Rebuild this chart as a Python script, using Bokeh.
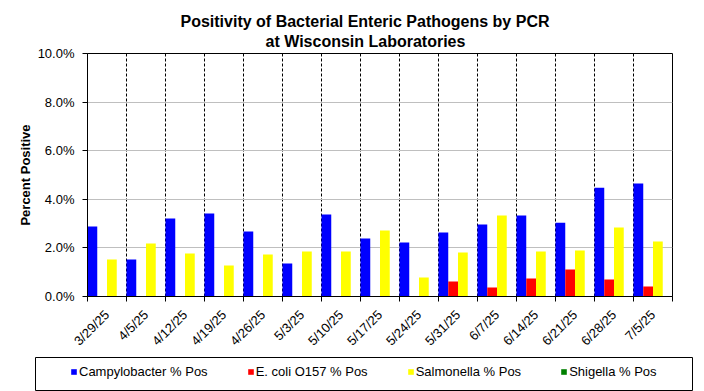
import math
import numpy as np
from bokeh.plotting import figure
from bokeh.layouts import column
from bokeh.models import (Range1d, FixedTicker, PrintfTickFormatter, Legend, LegendItem, Title)
from bokeh.embed import file_html
from bokeh.resources import INLINE

# ---- data ----
dates = ["3/29/25", "4/5/25", "4/12/25", "4/19/25", "4/26/25", "5/3/25", "5/10/25",
         "5/17/25", "5/24/25", "5/31/25", "6/7/25", "6/14/25", "6/21/25", "6/28/25", "7/5/25"]
campylobacter = [2.88, 1.52, 3.21, 3.42, 2.67, 1.36, 3.37, 2.39, 2.22, 2.63, 2.96, 3.33, 3.04, 4.48, 4.65]
ecoli_o157 = [0, 0, 0, 0, 0, 0, 0, 0, 0, 0.62, 0.37, 0.74, 1.11, 0.70, 0.41]
salmonella = [1.52, 2.18, 1.77, 1.28, 1.73, 1.85, 1.85, 2.72, 0.78, 1.81, 3.33, 1.85, 1.89, 2.84, 2.26]
shigella = [0, 0, 0, 0, 0, 0, 0, 0, 0, 0, 0, 0, 0, 0, 0]
y_ticks = [0, 2, 4, 6, 8, 10]
series_labels = ["Campylobacter % Pos", "E. coli O157 % Pos", "Salmonella % Pos", "Shigella % Pos"]
series_colors = ["#0000FF", "#FF0000", "#FFFF00", "#008000"]
title_lines = ["Positivity of Bacterial Enteric Pathogens by PCR", "at Wisconsin Laboratories"]

FONT = "Liberation Sans"
n = len(dates)
idx = np.arange(n, dtype=float)

p = figure(width=704, height=356, output_backend="svg", toolbar_location=None,
           x_range=Range1d(0, n), y_range=Range1d(0, 10),
           min_border_left=87, min_border_right=32, min_border_top=53, min_border_bottom=60,
           background_fill_color="white", border_fill_color="white")
p.frame_align = False
p.outline_line_color = "black"
p.outline_line_width = 1

# bars: four slots per week, each a quarter of the category
bw = 0.25
for k, vals in enumerate([campylobacter, ecoli_o157, salmonella, shigella]):
    p.vbar(x=idx + bw * (k + 0.5), top=vals, width=bw, fill_color=series_colors[k], line_color=None)

# x axis: labels at centers, ticks at boundaries (minor)
xa = p.xaxis[0]
xa.ticker = FixedTicker(ticks=list(idx + 0.5), minor_ticks=list(np.arange(n + 1, dtype=float)))
xa.major_label_overrides = {float(i + 0.5): d for i, d in enumerate(dates)}
xa.major_label_orientation = math.pi / 4
xa.major_tick_line_color = None
xa.major_tick_out = 0
xa.major_tick_in = 0
xa.minor_tick_in = 0
xa.minor_tick_out = 5
xa.minor_tick_line_color = "black"
xa.axis_line_color = "black"
xa.major_label_text_font = FONT
xa.major_label_text_font_size = "13px"
xa.major_label_text_color = "black"
xa.major_label_standoff = 11

ya = p.yaxis[0]
ya.ticker = FixedTicker(ticks=y_ticks)
ya.formatter = PrintfTickFormatter(format="%.1f%%")
ya.major_tick_out = 5
ya.major_tick_in = 0
ya.minor_tick_line_color = None
ya.axis_line_color = "black"
ya.major_tick_line_color = "black"
ya.major_label_text_font = FONT
ya.major_label_text_font_size = "13px"
ya.major_label_text_color = "black"
ya.major_label_standoff = 8
ya.axis_label = "Percent Positive"
ya.axis_label_text_font = FONT
ya.axis_label_text_font_size = "13px"
ya.axis_label_text_font_style = "bold"
ya.axis_label_text_color = "black"
ya.axis_label_standoff = 2

# grids
p.ygrid.ticker = FixedTicker(ticks=[2, 4, 6, 8])
p.ygrid.grid_line_color = "#bfbfbf"
p.ygrid.grid_line_width = 1
p.xgrid.ticker = FixedTicker(ticks=list(np.arange(1, n, dtype=float)))
p.xgrid.grid_line_color = "black"
p.xgrid.grid_line_dash = "3 2"
p.xgrid.grid_line_width = 1

# titles (second line closest to the plot)
p.add_layout(Title(text=title_lines[1], align="left", offset=178, standoff=7,
                   text_font=FONT, text_font_size="16px", text_font_style="bold",
                   text_color="black"), "above")
p.add_layout(Title(text=title_lines[0], align="left", offset=93, standoff=-5,
                   text_font=FONT, text_font_size="16px", text_font_style="bold",
                   text_color="black"), "above")

# legend panel: its frame outline is the legend box
lg = figure(width=704, height=35, output_backend="svg", toolbar_location=None,
            x_range=Range1d(0, 1), y_range=Range1d(0, 1),
            x_axis_location=None, y_axis_location=None,
            min_border_left=35, min_border_right=12, min_border_top=1, min_border_bottom=1,
            background_fill_color="white", border_fill_color="white")
lg.frame_align = False
lg.outline_line_color = "black"
lg.outline_line_width = 1
lg.grid.visible = False
keys = [lg.vbar(x=[0.5], top=[0], bottom=[0], width=0.01, fill_color=series_colors[k], line_color=None)
        for k in range(4)]

legend = Legend(items=[LegendItem(label=series_labels[k], renderers=[keys[k]]) for k in range(4)],
                orientation="horizontal", location=(35, 11),
                glyph_width=7, glyph_height=7, label_standoff=2, spacing=39, padding=0,
                label_height=14, margin=0,
                border_line_color=None, background_fill_alpha=0,
                label_text_font=FONT, label_text_font_size="13px", label_text_color="black")
lg.add_layout(legend)

page = column(p, lg, spacing=0)
open("out.html", "w").write(file_html(page, INLINE))
